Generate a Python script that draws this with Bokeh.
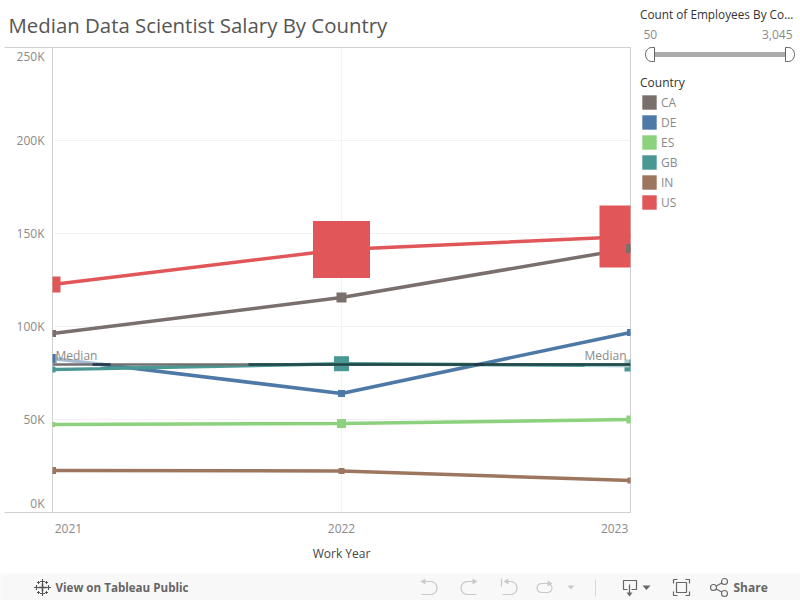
import numpy as np
from bokeh.core.properties import value
from bokeh.embed import file_html
from bokeh.layouts import column, row
from bokeh.models import FixedTicker, Label, Legend, LegendItem, Range1d
from bokeh.plotting import figure
from bokeh.resources import INLINE

TITLE = "Median Data Scientist Salary By Country"
years = [2021, 2022, 2023]
countries = ["CA", "DE", "ES", "GB", "IN", "US"]
colors = ["#79706e", "#4e79a7", "#8cd17d", "#499894", "#9d7660", "#e15759"]

ca_salary = [96200, 115600, 142000]
de_salary = [82800, 64000, 96800]
es_salary = [47300, 47800, 50000]
gb_salary = [76900, 80000, 79000]
in_salary = [22600, 22300, 17200]
us_salary = [122600, 141400, 148400]
median_salary = 79600

ca_size = [7, 10, 9]
de_size = [9, 7, 7]
es_size = [5, 9, 8]
gb_size = [6, 15, 12]
in_size = [7, 6, 6]
us_size = [16, 57, 62]

y_ticks = [0, 50000, 100000, 150000, 200000, 250000]
y_tick_labels = ["0K", "50K", "100K", "150K", "200K", "250K"]
x_tick_labels = ["2021", "2022", "2023"]

# Tableau nudges the outermost tick labels inward so that they stay inside the pane
y_label_pos = [4840, 50000, 100000, 150000, 200000, 245160]
x_label_pos = [2021.055, 2022, 2022.945]

salary = [ca_salary, de_salary, es_salary, gb_salary, in_salary, us_salary]
sizes = [ca_size, de_size, es_size, gb_size, in_size, us_size]

FONT = "Open Sans"
TICK = "#8a8a8a"

p = figure(width=633, height=573, output_backend="svg", toolbar_location=None,
           x_range=Range1d(2021, 2023), y_range=Range1d(0, 250000),
           min_border_left=52, min_border_right=3, min_border_top=47, min_border_bottom=61,
           outline_line_color="#d0d0d0", outline_line_width=1, frame_align=False)
p.title.text = TITLE
p.title.text_font = FONT
p.title.text_font_size = "20.4px"
p.title.text_font_style = "normal"
p.title.text_color = "#555555"
p.title.offset = -44
p.title.standoff = 17

xa, ya = p.xaxis[0], p.yaxis[0]
ya.ticker = FixedTicker(ticks=y_label_pos, minor_ticks=[y_ticks[0], y_ticks[-1]])
ya.major_label_overrides = dict(zip(y_label_pos, y_tick_labels))
xa.ticker = FixedTicker(ticks=x_label_pos)
xa.major_label_overrides = dict(zip(x_label_pos, x_tick_labels))
for ax in (xa, ya):
    ax.axis_line_color = None
    ax.major_tick_in = 0
    ax.major_tick_out = 4
    ax.major_tick_line_color = None
    ax.minor_tick_line_color = None
    ax.major_label_text_font = FONT
    ax.major_label_text_font_size = "12px"
    ax.major_label_text_color = TICK
ya.major_tick_out = 5
ya.minor_tick_in = 0
ya.minor_tick_out = 48
ya.minor_tick_line_color = "#d0d0d0"
ya.major_label_standoff = -40
xa.major_label_standoff = 7
xa.axis_label = "Work Year"
xa.axis_label_text_font = FONT
xa.axis_label_text_font_style = "normal"
xa.axis_label_text_font_size = "12px"
xa.axis_label_text_color = "#444444"
xa.axis_label_standoff = 9
p.xgrid.ticker = FixedTicker(ticks=years)
p.ygrid.ticker = FixedTicker(ticks=y_ticks)
p.grid.grid_line_color = "#f2f2f2"

for vals, c in zip(salary, colors):
    p.line(years, vals, line_color=c, line_width=3.5)
order = [5, 0, 1, 2, 3, 4]
for i in order:
    p.scatter(years, salary[i], size=sizes[i], marker="square", fill_color=colors[i], line_color=None)

for xv, off, al in ((years[0], 3, "left"), (years[2], -1, "right")):
    p.add_layout(Label(x=xv, y=median_salary, x_offset=off, y_offset=7, text="Median", text_align=al,
                       text_baseline="middle", text_font=FONT, text_font_size="12px", text_color=TICK,
                       background_fill_color="white", background_fill_alpha=0.5, padding=(0, 3, 0, 3)))

p.line(years, [median_salary] * 3, line_color="#707070", line_width=2.5, level="overlay")
grid_x = np.linspace(years[0], years[-1], 1157)
for vals, dark in ((gb_salary, "#1f4a4c"), (de_salary, "#23384f")):
    near = np.abs(np.interp(grid_x, years, vals) - median_salary) < 600
    p.line(grid_x, np.where(near, median_salary, np.nan), line_color=dark, line_width=2.5, level="overlay")

# ---- right-hand side panel: slider filter and colour legend
s = figure(width=167, height=573, output_backend="svg", toolbar_location=None,
           x_range=Range1d(633, 800), y_range=Range1d(573, 0), x_axis_type=None, y_axis_type=None,
           min_border=0, outline_line_color=None, frame_align=False)
s.grid.visible = False
s.text([639.5], [13], ["Count of Employees By Co..."], text_font=value(FONT), text_font_size="11.8px",
       text_color="#333333", text_baseline="middle")
s.text([643], [34], ["50"], text_font=value(FONT), text_font_size="12px", text_color=TICK, text_baseline="middle")
s.text([792], [34], ["3,045"], text_font=value(FONT), text_font_size="12px", text_color=TICK,
       text_baseline="middle", text_align="right")
s.text([639.5], [82], ["Country"], text_font=value(FONT), text_font_size="12px", text_color="#333333",
       text_baseline="middle")
s.line([653, 785], [54, 54], line_color="#aaaaaa", line_width=5)
th = np.linspace(-np.pi / 2, np.pi / 2, 13)
s.patch(np.r_[654, 651 - 6 * np.cos(th), 654], np.r_[61, 54 - 7 * np.sin(th), 47],
        fill_color="white", line_color="#666666", line_width=1)
s.patch(np.r_[785, 788 + 6 * np.cos(th), 785], np.r_[61, 54 - 7 * np.sin(th), 47],
        fill_color="white", line_color="#666666", line_width=1)
items = []
for name, c in zip(countries, colors):
    r = s.quad(left=[0], right=[1], top=[0], bottom=[1], fill_color=c, line_color=None)
    items.append(LegendItem(label=name, renderers=[r]))
leg = Legend(items=items, location=(7, 362), padding=0, margin=0, spacing=2, glyph_width=18, glyph_height=18,
             label_height=14, label_width=20, label_standoff=3, border_line_color=None, background_fill_alpha=0,
             label_text_font=FONT, label_text_font_size="12px", label_text_color=TICK, label_text_baseline="middle")
s.add_layout(leg, "center")

# ---- bottom toolbar strip
f = figure(width=800, height=27, output_backend="svg", toolbar_location=None,
           x_range=Range1d(0, 800), y_range=Range1d(600, 573), x_axis_type=None, y_axis_type=None,
           min_border=0, outline_line_color=None, background_fill_color="#f8f8f8", border_fill_color="#f8f8f8",
           frame_align=False)
f.grid.visible = False
f.text([55], [587], ["View on Tableau Public"], text_font=value(FONT), text_font_size="11.6px",
       text_font_style="bold", text_color="#666666", text_baseline="middle")
f.text([733], [587], ["Share"], text_font=value(FONT), text_font_size="12px", text_font_style="bold",
       text_color="#666666", text_baseline="middle")

lx, ly = 42, 587
crosses = [(0, 0, 4, 1.6), (0, -6, 2.5, 1.1), (0, 6, 2.5, 1.1), (-6, 0, 2.5, 1.1), (6, 0, 2.5, 1.1),
           (-4, -5, 1.5, 1), (4, -5, 1.5, 1), (-4, 5, 1.5, 1), (4, 5, 1.5, 1)]
for dx, dy, arm, w in crosses:
    f.multi_line([[lx + dx - arm, lx + dx + arm], [lx + dx, lx + dx]],
                 [[ly + dy, ly + dy], [ly + dy - arm, ly + dy + arm]], line_color="#555555", line_width=w)

GREY = "#c9c9c9"
DARK = "#666666"
t = np.linspace(-np.pi / 2, np.pi / 2, 15)
# undo, redo, revert
f.line(np.r_[421, 430 + 6.5 * np.cos(t), 421], np.r_[581, 587.5 + 6.5 * np.sin(t), 594], line_color=GREY, line_width=1.2)
f.patch([420, 425, 425], [581, 578, 584], fill_color=GREY, line_color=None)
f.line(np.r_[476, 467 - 6.5 * np.cos(t), 476], np.r_[581, 587.5 + 6.5 * np.sin(t), 594], line_color=GREY, line_width=1.2)
f.patch([477, 472, 472], [581, 578, 584], fill_color=GREY, line_color=None)
f.line(np.r_[504, 510 + 6.5 * np.cos(t), 502], np.r_[581, 587.5 + 6.5 * np.sin(t), 594], line_color=GREY, line_width=1.2)
f.patch([503, 508, 508], [581, 578, 584], fill_color=GREY, line_color=None)
f.line([501, 501], [578, 586], line_color=GREY, line_width=1.2)
# refresh: rounded rectangle
tl = np.linspace(-np.pi / 2, np.pi / 2, 9)
f.line(np.r_[547, 541 - 4.5 * np.cos(tl), 547 + 4.5 * np.cos(tl[::-1]), 547],
       np.r_[583, 587.5 + 4.5 * np.sin(tl), 587.5 + 4.5 * np.sin(tl[::-1]), 583], line_color=GREY, line_width=1.2)
f.patch([552, 547, 547], [583, 580, 586], fill_color=GREY, line_color=None)
f.patch([567, 574, 570.5], [585, 585, 589], fill_color=GREY, line_color=None)
f.line([595, 595], [579, 596], line_color="#d8d8d8", line_width=1)
# download
f.line([627, 623, 623, 636, 636, 631], [589, 589, 580, 580, 589, 589], line_color=DARK, line_width=1.2)
f.line([629, 629], [584, 594], line_color=DARK, line_width=1.2)
f.patch([626, 632, 629], [592, 592, 596], fill_color=DARK, line_color=None)
f.patch([642, 650, 646], [585, 585, 589.5], fill_color=DARK, line_color=None)
# fit to screen
f.multi_line([[673, 673, 677], [685, 689, 689], [673, 673, 677], [685, 689, 689]],
             [[583, 579, 579], [579, 579, 583], [591, 595, 595], [595, 595, 591]], line_color=DARK, line_width=1.2)
f.patch([676, 686, 686, 676], [582, 582, 592, 592], fill_color=None, line_color=DARK, line_width=1.2)
# share
f.multi_line([[713, 724], [713, 724]], [[587, 581], [587, 593]], line_color=DARK, line_width=1.1)
f.scatter([713, 724, 724], [587, 581, 593], size=6, marker="circle", fill_color="#f8f8f8", line_color=DARK, line_width=1.1)

layout = column(row(p, s, spacing=0), f, spacing=0)
open("out.html", "w").write(file_html(layout, INLINE))
